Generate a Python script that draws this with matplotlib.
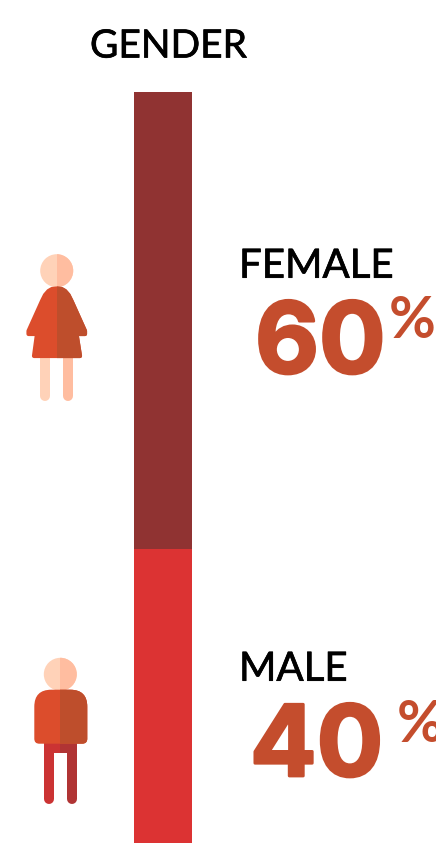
import matplotlib
matplotlib.use('Agg')
import matplotlib.pyplot as plt
import matplotlib.patheffects as pe
from matplotlib.patches import Circle, PathPatch, Polygon, Rectangle
from matplotlib.path import Path

# chart data
categories = ['MALE', 'FEMALE']
shares = [40, 60]
bar_colors = ['#DC3333', '#903332']
title = 'GENDER'

W, H = 436, 843
TEXT_RED = '#C44D2D'
LABEL_FONT = 'Lato'
NUM_FONT = 'Inter'

fig = plt.figure(figsize=(W / 100, H / 100), dpi=100)

# stacked bar, runs off the bottom edge of the image like the original
bar_ax = fig.add_axes([134 / W, 0, 58 / W, (H - 92) / H])
bottom = 0
for cat, val, col in zip(categories, shares, bar_colors):
    bar_ax.bar(0, val, width=1, bottom=bottom, color=col, label=cat)
    bottom += val
bar_ax.set_xlim(-0.5, 0.5)
bar_ax.set_ylim(1.4, 100)
bar_ax.axis('off')

# overlay in pixel coords for the icons and labels
ax = fig.add_axes([0, 0, 1, 1])
ax.set_xlim(0, W)
ax.set_ylim(H, 0)
ax.axis('off')
ax.patch.set_alpha(0)


def two_tone(make_patch, split_x, left_color, right_color):
    # draw the shape twice, second copy clipped to the right half
    ax.add_patch(make_patch(left_color))
    right = ax.add_patch(make_patch(right_color))
    clip = Rectangle((split_x, 0), W - split_x, H, transform=ax.transData)
    right.set_clip_path(clip)


def leg(x, y0, y1, width, color):
    # round cap line, width is in pixels. Sits under the dress / torso
    ax.plot([x, x], [y0, y1 - width / 2], color=color, lw=width * 0.72, solid_capstyle='round', zorder=0.5)


def fatten(color, width):
    # the installed fonts are a little lighter than the original one
    return [pe.withStroke(linewidth=width, foreground=color)]


# female icon
fx = 56.7
leg(45, 350, 401, 10, '#FFD2B8')
leg(68, 350, 401, 10, '#FFBDA0')
two_tone(lambda c: Circle((fx, 270.7), 16.5, fc=c, ec='none'), fx, '#FFD2B8', '#FFBDA0')
dress = [(42, 301), (45, 295), (48.5, 291), (52, 289), (fx, 288.5), (61.5, 289), (65, 291), (68.5, 295), (71.5, 301),
         (85, 331), (85, 334), (76.5, 334), (80, 356), (34, 356), (37, 334), (28.5, 334), (28.5, 331)]
two_tone(lambda c: Polygon(dress, closed=True, fc=c, ec=c, lw=3, joinstyle='round'),
         fx, '#DC4D2C', '#BE4E2C')

# male icon
mx = 60.3
leg(49, 745, 804, 10, '#CB3333')
leg(72, 745, 804, 10, '#B03434')
two_tone(lambda c: Rectangle((44, 740), 33, 12.7, fc=c, ec='none'), mx, '#CB3333', '#B03434')
two_tone(lambda c: Circle((mx, 674.3), 16.5, fc=c, ec='none'), mx, '#FFD2B8', '#FFBDA0')
torso_verts = [(34.3, 738.7), (34.3, 706.7), (34.3, 689.7), (51.3, 689.7), (70.3, 689.7), (87.3, 689.7), (87.3, 706.7),
               (87.3, 738.7), (87.3, 743.7), (82.3, 743.7), (39.3, 743.7), (34.3, 743.7), (34.3, 738.7), (34.3, 738.7)]
torso_codes = [Path.MOVETO, Path.LINETO, Path.CURVE3, Path.CURVE3, Path.LINETO, Path.CURVE3, Path.CURVE3,
               Path.LINETO, Path.CURVE3, Path.CURVE3, Path.LINETO, Path.CURVE3, Path.CURVE3, Path.CLOSEPOLY]
two_tone(lambda c: PathPatch(Path(torso_verts, torso_codes), fc=c, ec='none'), mx, '#DC4D2C', '#BE4E2C')

# text
label_style = dict(family=LABEL_FONT, color='black', va='baseline', ha='left', path_effects=fatten('black', 0.5))
ax.text(90, 57.5, title, fontsize=28, **label_style)
ax.text(239, 277.7, categories[1], fontsize=29, **label_style)
ax.text(239, 680.7, categories[0], fontsize=29, **label_style)

num_style = dict(family=NUM_FONT, fontsize=71, fontweight='bold', color=TEXT_RED, va='baseline', ha='left',
                 path_effects=fatten(TEXT_RED, 2))
ax.text(255, 373, str(shares[1]), **num_style)
ax.text(250, 776, str(shares[0]), **num_style)

pct_style = dict(family=LABEL_FONT, fontsize=41, fontweight='bold', color=TEXT_RED, va='baseline', ha='left')
ax.text(389, 338, '%', **pct_style)
ax.text(397, 741.5, '%', **pct_style)

fig.savefig('out.png', dpi=100, facecolor='white')
